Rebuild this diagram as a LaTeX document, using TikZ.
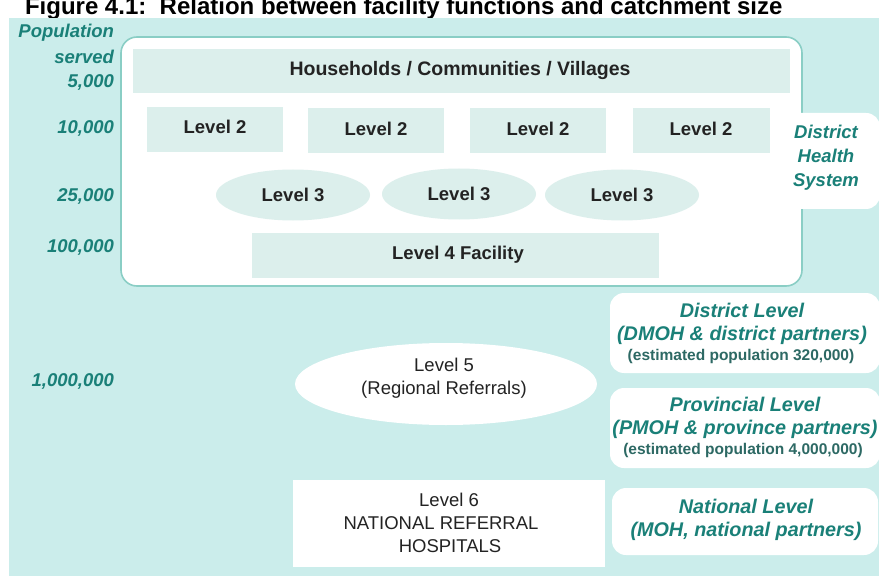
\documentclass[tikz,border=0pt]{standalone}
\usepackage{fontspec}
\setmainfont{Liberation Sans}
\usetikzlibrary{shapes.geometric}

\definecolor{panelbg}{RGB}{203,237,235}
\definecolor{cellfill}{RGB}{220,239,236}
\definecolor{tealtext}{RGB}{26,128,120}
\definecolor{framecol}{RGB}{138,206,197}
\definecolor{inktext}{RGB}{35,35,35}
\definecolor{notetext}{RGB}{45,105,100}

\tikzset{
  every node/.style={inner sep=0pt, outer sep=0pt},
  poplabel/.style={anchor=east, text=tealtext, font=\fontsize{18.5}{22}\selectfont\bfseries\itshape},
  cell/.style={text=inktext, font=\fontsize{18.5}{22}\selectfont\bfseries},
  oval/.style={ellipse, fill=cellfill, text=inktext, font=\fontsize{18.5}{22}\selectfont\bfseries,
               minimum width=154pt, minimum height=51pt},
  plainnote/.style={text=inktext, align=center, font=\fontsize{18.5}{23}\selectfont},
  tier/.style={fill=white, rounded corners=14pt},
  tiertext/.style={text=tealtext, align=center, font=\fontsize{19.8}{23}\selectfont\bfseries\itshape},
  smallnote/.style={text=notetext, font=\fontsize{15.5}{18}\selectfont\bfseries},
}

\begin{document}
\begin{tikzpicture}[x=1pt, y=-1pt]
  \useasboundingbox (0,0) rectangle (882,577);

  % title line
  \node[anchor=base west, font=\fontsize{24}{28}\selectfont\bfseries, text=black]
    (title) at (25,14.5) {Figure 4.1:\ \ Relation between facility functions and catchment size};

  % teal panel
  \fill[panelbg] (9,18) rectangle (879,576);

  % district health system frame and side tab
  \draw[fill=white, draw=framecol, line width=1.6pt, rounded corners=16pt]
    (121,37) rectangle (802,286);
  \fill[white, rounded corners=14pt] (780,113) rectangle (880,209);
  \node[tiertext, font=\fontsize{18.5}{24}\selectfont\bfseries\itshape] (dhs) at (826,158)
    {District\\Health\\System};

  % population scale
  \node[poplabel] (popA) at (114,33) {Population};
  \node[poplabel] (popB) at (114,57) {served};
  \node[poplabel] (p5k) at (114,82) {5,000};
  \node[poplabel] (p10k) at (114,128) {10,000};
  \node[poplabel] (p25k) at (114,196) {25,000};
  \node[poplabel] (p100k) at (114,247) {100,000};
  \node[poplabel] (p1m) at (114,381) {1,000,000};

  % level 1
  \fill[cellfill] (133,49) rectangle (790,93);
  \node[text=inktext, font=\fontsize{19.5}{22}\selectfont\bfseries] (lvl1) at (460,71)
    {Households / Communities / Villages};

  % level 2
  \fill[cellfill] (147,107) rectangle (283,152);
  \fill[cellfill] (308,108) rectangle (444,153);
  \fill[cellfill] (470,108) rectangle (606,153);
  \fill[cellfill] (633,108) rectangle (770,153);
  \node[cell] (l2a) at (215,127) {Level 2};
  \node[cell] (l2b) at (376,129) {Level 2};
  \node[cell] (l2c) at (538,129) {Level 2};
  \node[cell] (l2d) at (701,129) {Level 2};

  % level 3
  \node[oval] (l3a) at (293,195) {Level 3};
  \node[oval] (l3b) at (459,194) {Level 3};
  \node[oval] (l3c) at (622,195) {Level 3};

  % level 4
  \fill[cellfill] (252,233) rectangle (659,278);
  \node[cell] (l4) at (458,255) {Level 4 Facility};

  % level 5
  \node[ellipse, fill=white, minimum width=302pt, minimum height=82pt] (l5) at (446,384) {};
  \node[plainnote] (l5t) at (444,378) {Level 5\\(Regional Referrals)};

  % level 6
  \fill[white] (293,480) rectangle (605,567);
  \node[plainnote] (l6a) at (449,500) {Level 6};
  \node[plainnote] (l6b) at (441,523) {NATIONAL REFERRAL};
  \node[plainnote] (l6c) at (450,546) {HOSPITALS};

  % management tiers
  \fill[tier] (610,293) rectangle (880,373);
  \node[tiertext] (dl) at (742,324) {District Level\\(DMOH \& district partners)};
  \node[smallnote] (dlp) at (741,356) {(estimated population 320,000)};

  \fill[tier] (610,388) rectangle (880,468);
  \node[tiertext] (pl) at (745,418) {Provincial Level\\(PMOH \& province partners)};
  \node[smallnote] (plp) at (743,450) {(estimated population 4,000,000)};

  \fill[tier] (612,488) rectangle (878,555);
  \node[tiertext] (nl) at (746,520) {National Level\\(MOH, national partners)};
\end{tikzpicture}
\end{document}
